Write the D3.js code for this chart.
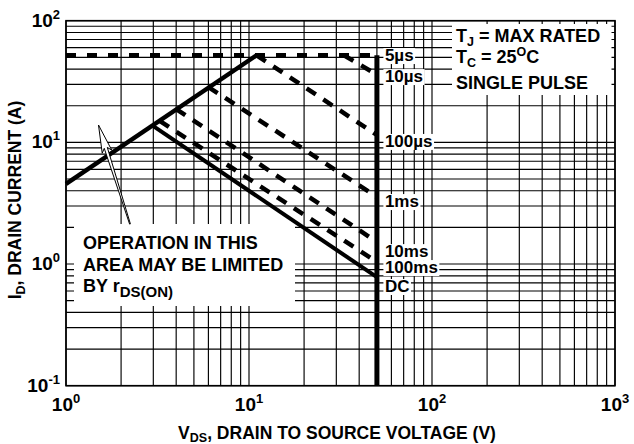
<!DOCTYPE html>
<html>
<head>
<meta charset="utf-8">
<script src="https://cdn.jsdelivr.net/npm/d3@7"></script>
<style>
  body { margin: 0; background: #fff; }
  text { font-family: "Liberation Sans", Arial, Helvetica, sans-serif; font-weight: bold; fill: #000; }
</style>
</head>
<body>
<script>
(function() {

    // safe operating area curves, drain current (A) against drain-source voltage (V)
    var rdsV = [1, 11],       rdsI = [4.55, 52];
    var p5usV = [1, 50],      p5usI = [52, 52];
    var p10usV = [33, 50],    p10usI = [52, 36];
    var p100usV = [11, 50],   p100usI = [52, 11.5];
    var p1msV = [6.0, 50],    p1msI = [28.5, 3.56];
    var p10msV = [4.0, 50],   p10msI = [18.8, 1.52];
    var p100msV = [3.25, 50], p100msI = [15, 1.04];
    var dcV = [3.0, 50],      dcI = [13.6, 0.78];
    var limitV = [50, 50],    limitI = [52, 0.1];

    var pulseLabels = ["5\u00b5s", "10\u00b5s", "100\u00b5s", "1ms", "10ms", "100ms", "DC"];
    var labelI = [46.6, 31.3, 9.17, 2.94, 1.14, 0.843, 0.589];   // current at label baseline

    var xTickVals = [1, 10, 100, 1000], xTickExp = ["0", "1", "2", "3"];
    var yTickVals = [0.1, 1, 10, 100],  yTickExp = ["-1", "0", "1", "2"];

    var width = 634, height = 444;
    var left = 66, right = 615, top = 20.7, bottom = 385.7;

    var svg = d3.select("body").append("svg")
        .attr("width", width)
        .attr("height", height);

    var x = d3.scaleLog().domain([1, 1000]).range([left, right]);
    var y = d3.scaleLog().domain([0.1, 100]).range([bottom, top]);

    // grid
    var grid = svg.append("g").attr("stroke", "#000").attr("stroke-width", 1.15);
    grid.selectAll(".vg").data(x.ticks()).enter().append("line")
        .attr("x1", function(d){ return x(d); })
        .attr("x2", function(d){ return x(d); })
        .attr("y1", top).attr("y2", bottom);
    grid.selectAll(".hg").data(y.ticks()).enter().append("line")
        .attr("y1", function(d){ return y(d); })
        .attr("y2", function(d){ return y(d); })
        .attr("x1", left).attr("x2", right);

    // white boxes behind notes (inset so grid shows as ticks at the frame)
    svg.append("rect").attr("x", 452).attr("y", 24).attr("width", 159.5).attr("height", 71).attr("fill", "#fff");
    svg.append("rect").attr("x", 74).attr("y", 224).attr("width", 221).attr("height", 82).attr("fill", "#fff");

    svg.append("rect")
        .attr("x", left).attr("y", top)
        .attr("width", right - left).attr("height", bottom - top)
        .attr("fill", "none").attr("stroke", "#000").attr("stroke-width", 1.6);

    var line = d3.line()
        .x(function(d){ return x(d[0]); })
        .y(function(d){ return y(d[1]); });

    function curve(vs, is, dashed, w) {
        svg.append("path")
            .datum(d3.zip(vs, is))
            .attr("d", line)
            .attr("fill", "none")
            .attr("stroke", "#000")
            .attr("stroke-width", w)
            .attr("stroke-dasharray", dashed ? dashed : null);
    }

    curve(p5usV, p5usI, "10,11", 4.5);
    curve(p10usV, p10usI, "11,9", 4.5);
    curve(p100usV, p100usI, "11,9", 4.5);
    curve(p1msV, p1msI, "11,9", 4.5);
    curve(p10msV, p10msI, "11,9", 4.5);
    curve(p100msV, p100msI, "11,9", 4.5);
    curve(dcV, dcI, null, 4);
    curve(rdsV, rdsI, null, 4.5);
    curve(limitV, limitI, null, 5);

    // pulse labels with white backgrounds
    var labG = svg.append("g");
    pulseLabels.forEach(function(t, i) {
        var g = labG.append("g");
        var tx = g.append("text")
            .attr("x", x(50) + 8)
            .attr("y", y(labelI[i]))
            .attr("font-size", 17)
            .text(t);
        var bb = tx.node().getBBox();
        g.insert("rect", "text")
            .attr("x", bb.x - 1.5).attr("y", bb.y + 2)
            .attr("width", bb.width + 3).attr("height", bb.height - 3)
            .attr("fill", "#fff");
    });

    // legend text
    var t1 = svg.append("text").attr("x", 456).attr("y", 41.7).attr("font-size", 18);
    t1.append("tspan").text("T");
    t1.append("tspan").attr("font-size", 12.5).attr("dy", 4).text("J");
    t1.append("tspan").attr("dy", -4).text(" = MAX RATED");

    var t2 = svg.append("text").attr("x", 456).attr("y", 63).attr("font-size", 18);
    t2.append("tspan").text("T");
    t2.append("tspan").attr("font-size", 12.5).attr("dy", 4).text("C");
    t2.append("tspan").attr("dy", -4).text(" = 25");
    t2.append("tspan").attr("font-size", 12.5).attr("dy", -7).text("O");
    t2.append("tspan").attr("dy", 7).text("C");

    svg.append("text").attr("x", 456).attr("y", 89).attr("font-size", 18).text("SINGLE PULSE");

    // operation note
    svg.append("text").attr("x", 83).attr("y", 249).attr("font-size", 18).text("OPERATION IN THIS");
    svg.append("text").attr("x", 83).attr("y", 271).attr("font-size", 18).text("AREA MAY BE LIMITED");
    var t3 = svg.append("text").attr("x", 83).attr("y", 292).attr("font-size", 18);
    t3.append("tspan").text("BY r");
    t3.append("tspan").attr("font-size", 15).attr("dy", 5).text("DS(ON)");

    // arrow pointing at the rds(on) limited region
    var tip = [98.5, 125], tail = [130, 224];
    var dx = tail[0] - tip[0], dy = tail[1] - tip[1], len = Math.sqrt(dx*dx + dy*dy);
    var ux = dx / len, uy = dy / len, nx = uy, ny = -ux;
    function pt(a, b){ return [tip[0] + ux*a + nx*b, tip[1] + uy*a + ny*b]; }
    var arrowPts = [pt(0, 0), pt(28, -5), pt(24, -1.6), pt(len, -0.4), pt(len, 0.4), pt(24, 1.6), pt(28, 5)];
    svg.append("path")
        .attr("d", "M" + arrowPts.join("L") + "Z")
        .attr("fill", "#fff")
        .attr("stroke", "#000")
        .attr("stroke-width", 1)
        .attr("stroke-linejoin", "miter");

    // tick labels
    xTickVals.forEach(function(v, i) {
        var t = svg.append("text")
            .attr("x", x(v)).attr("y", 411)
            .attr("text-anchor", "middle")
            .attr("font-size", 19);
        t.append("tspan").text("10");
        t.append("tspan").attr("font-size", 13).attr("dy", -8).text(xTickExp[i]);
    });
    yTickVals.forEach(function(v, i) {
        var t = svg.append("text")
            .attr("x", 60).attr("y", y(v) + 6)
            .attr("text-anchor", "end")
            .attr("font-size", 19);
        t.append("tspan").text("10");
        t.append("tspan").attr("font-size", 13).attr("dy", -8).text(yTickExp[i]);
    });

    // axis titles
    var xt = svg.append("text")
        .attr("x", 337).attr("y", 439)
        .attr("text-anchor", "middle")
        .attr("font-size", 17.5);
    xt.append("tspan").text("V");
    xt.append("tspan").attr("font-size", 12.5).attr("dy", 3).text("DS");
    xt.append("tspan").attr("dy", -3).text(", DRAIN TO SOURCE VOLTAGE (V)");

    var yt = svg.append("text")
        .attr("transform", "translate(21,200) rotate(-90)")
        .attr("text-anchor", "middle")
        .attr("font-size", 17.5);
    yt.append("tspan").text("I");
    yt.append("tspan").attr("font-size", 12.5).attr("dy", 4).text("D");
    yt.append("tspan").attr("dy", -4).text(", DRAIN CURRENT (A)");

})();
</script>
</body>
</html>
